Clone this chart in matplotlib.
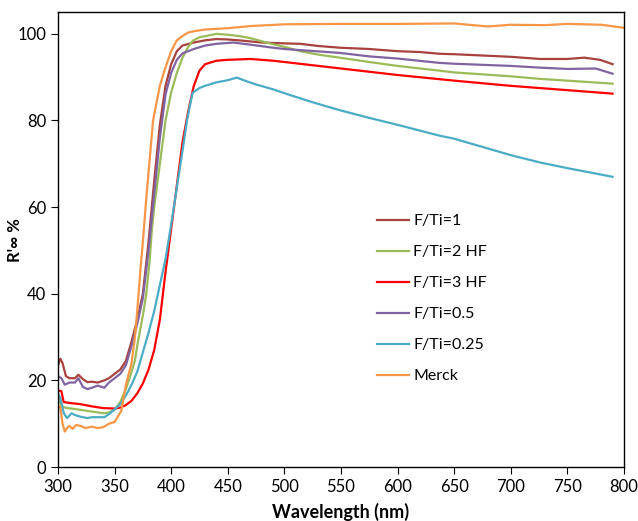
import matplotlib.pyplot as plt

# %% Data (wavelength in nm, R'inf in %)
wl_fti1 = [300, 302, 304, 307, 310, 315, 318, 322, 326, 330, 335, 341, 345, 350, 355, 360, 365, 370,
           375, 380, 385, 390, 395, 400, 405, 410, 420, 430, 440, 450, 460, 480, 500, 514, 530, 549,
           575, 600, 620, 637, 650, 675, 700, 726, 750, 765, 779, 790]
r_fti1 = [23.5, 25, 24, 21, 20.5, 20.5, 21.3, 20.3, 19.6, 19.7, 19.5, 20, 20.5, 21.5, 22.5, 24.5, 29, 34,
          40, 52, 66, 79, 88, 93, 96, 97.3, 98, 98.5, 98.8, 98.7, 98.5, 98, 97.8, 97.7, 97.2, 96.8,
          96.5, 96, 95.8, 95.4, 95.3, 95, 94.7, 94.2, 94.2, 94.5, 94, 93]

wl_fti2 = [300, 303, 305, 309, 320, 330, 341, 345, 350, 355, 360, 365, 368, 370, 375, 378, 381, 383,
           385, 390, 393, 395, 400, 405, 410, 415, 419, 425, 440, 450, 460, 470, 480, 490, 500, 514,
           530, 549, 575, 600, 637, 650, 700, 726, 750, 790]
r_fti2 = [16, 14.2, 13.8, 13.6, 13.2, 12.8, 12.4, 12.6, 13.2, 15, 18, 22, 24.6, 28, 35, 40, 47.7, 55,
          60, 70, 76, 80, 86.5, 91, 94.5, 97, 98.4, 99.2, 100, 99.8, 99.5, 99, 98.3, 97.6, 97, 96,
          95.2, 94.5, 93.5, 92.6, 91.5, 91.1, 90.2, 89.6, 89.2, 88.5]

wl_fti3 = [300, 303, 305, 310, 320, 330, 340, 350, 355, 360, 365, 370, 375, 380, 385, 390, 395, 400,
           405, 410, 415, 420, 425, 430, 440, 450, 470, 490, 500, 550, 600, 650, 700, 750, 790]
r_fti3 = [17.7, 17.5, 15, 14.8, 14.5, 14, 13.6, 13.5, 13.7, 14.3, 15.3, 17, 19.3, 22.5, 27, 34, 45, 55,
          65, 75, 82, 88, 91.5, 93, 93.8, 94, 94.2, 93.8, 93.5, 92, 90.5, 89.2, 88, 87, 86.2]

wl_fti05 = [300, 303, 306, 310, 315, 318, 322, 326, 330, 335, 341, 345, 350, 355, 360, 365, 370, 375,
            380, 385, 390, 395, 400, 405, 410, 420, 430, 440, 455, 470, 490, 500, 549, 575, 600, 637,
            650, 700, 726, 750, 775, 790]
r_fti05 = [21, 20.5, 19, 19.5, 19.5, 20.5, 18.5, 18, 18.3, 18.8, 18.3, 19.5, 20.5, 21.5, 23.5, 28, 33, 39,
           50, 63, 76, 86, 91, 94, 95.5, 96.5, 97.3, 97.7, 98, 97.5, 96.8, 96.5, 95.6, 94.8, 94.3, 93.3,
           93.1, 92.6, 92.2, 91.9, 92, 90.8]

wl_fti025 = [300, 302, 305, 308, 312, 315, 320, 326, 330, 341, 345, 350, 355, 360, 365, 370, 375, 380,
             385, 390, 395, 400, 405, 410, 414, 417, 419, 425, 430, 440, 450, 458, 465, 475, 490, 500,
             525, 550, 575, 600, 637, 650, 700, 726, 750, 770, 790]
r_fti025 = [17, 16, 12.5, 11.3, 12.4, 12, 11.6, 11.3, 11.5, 11.5, 12.2, 13.3, 14.5, 16.5, 19, 22, 26.5, 31,
            36, 42, 48, 56, 64.5, 73, 80, 84, 86.4, 87.5, 88, 88.8, 89.3, 89.9, 89.2, 88.3, 87.2, 86.3,
            84.2, 82.3, 80.6, 79, 76.5, 75.8, 72, 70.3, 69, 68, 67]

wl_merck = [300, 302, 304, 306, 308, 310, 313, 316, 320, 324, 330, 335, 340, 345, 350, 356, 360, 365,
            368, 370, 373, 375, 378, 380, 384, 390, 394, 400, 405, 410, 415, 420, 430, 450, 470, 500,
            550, 600, 650, 680, 700, 730, 750, 780, 800]
r_merck = [13.8, 14, 10, 8.2, 9, 9.5, 8.8, 9.7, 9.5, 9, 9.3, 9, 9.2, 10, 10.4, 13, 19, 24,
           30, 36, 46, 52, 62, 68, 80, 88, 91.5, 96, 98.5, 99.5, 100.3, 100.6, 101, 101.3, 101.8, 102.2,
           102.3, 102.3, 102.4, 101.7, 102.1, 102, 102.3, 102.1, 101.4]

labels = ['F/Ti=1', 'F/Ti=2 HF', 'F/Ti=3 HF', 'F/Ti=0.5', 'F/Ti=0.25', 'Merck']
colors = ['#A8423F', '#9BBB59', '#FF0000', '#8064A2', '#4BACC6', '#F79646']
series = [(wl_fti1, r_fti1), (wl_fti2, r_fti2), (wl_fti3, r_fti3),
          (wl_fti05, r_fti05), (wl_fti025, r_fti025), (wl_merck, r_merck)]

# %% Plot
plt.rcParams['font.family'] = ['Lato', 'DejaVu Sans']
fig = plt.figure(figsize=(6.38, 5.21), dpi=100)
ax = fig.add_axes([0.0909, 0.1036, 0.887, 0.873])

for (x, y), lab, c in zip(series, labels, colors):
    ax.plot(x, y, color=c, lw=1.6, label=lab)

ax.set_xlim(300, 800)
ax.set_ylim(0, 105)
ax.set_xticks(range(300, 801, 50))
ax.set_yticks(range(0, 101, 20))
ax.tick_params(direction='out', length=5, labelsize=12, top=False, right=False)
for s in ax.spines.values():
    s.set_linewidth(1.0)

ax.set_xlabel('Wavelength (nm)', fontsize=13, fontweight='bold', va='center')
ax.xaxis.set_label_coords(0.5, -0.099)
ax.set_ylabel("R'∞ %", fontsize=12, fontweight='bold', va='center')
ax.yaxis.set_label_coords(-0.076, 0.5)

ax.legend(loc='center left', bbox_to_anchor=(0.539, 0.37), frameon=False, fontsize=11.5,
          handlelength=2.0, handletextpad=0.25, labelspacing=1.05)

fig.savefig('out.png', dpi=100)
